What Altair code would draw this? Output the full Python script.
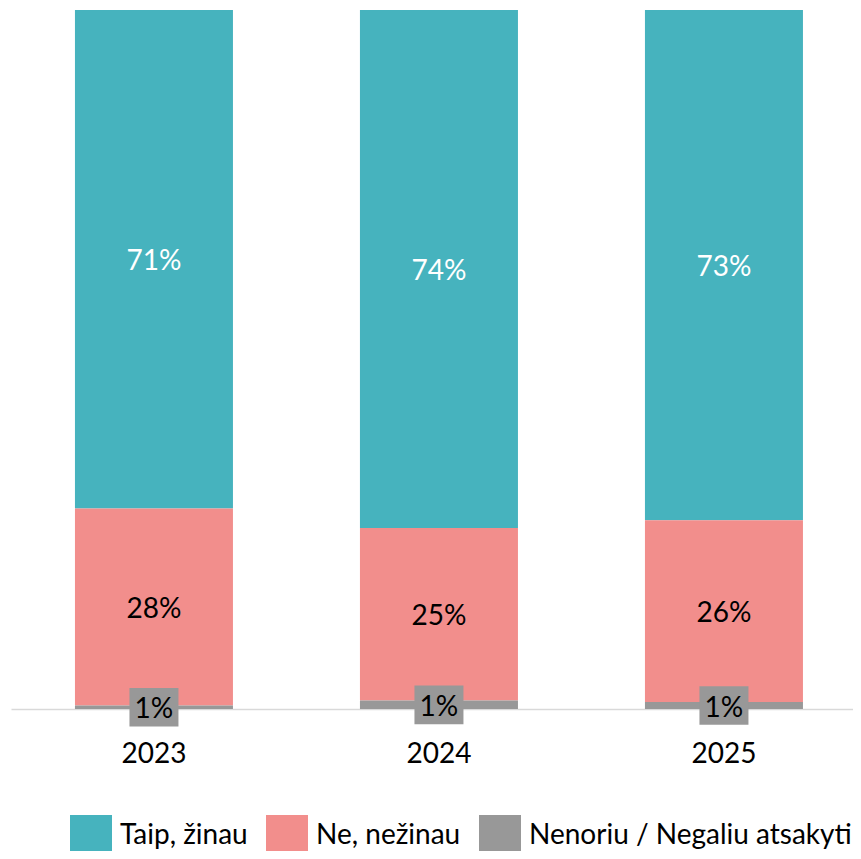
import altair as alt
import pandas as pd

years = ["2023", "2024", "2025"]
categories = ["Taip, žinau", "Ne, nežinau", "Nenoriu / Negaliu atsakyti"]
colors = ["#46B3BE", "#F28E8C", "#989898"]
stack_order = [2, 1, 0]

taip = [71.3, 74.1, 73.0]
ne = [28.2, 24.7, 26.0]
nenoriu = [0.5, 1.2, 1.0]

taip_lbl = ["71%", "74%", "73%"]
ne_lbl = ["28%", "25%", "26%"]
nenoriu_lbl = ["1%", "1%", "1%"]

rows = []
for ci, (vals, lbls) in enumerate([(taip, taip_lbl), (ne, ne_lbl), (nenoriu, nenoriu_lbl)]):
    for yi, yr in enumerate(years):
        rows.append({"year": yr, "cat": categories[ci], "ord": stack_order[ci],
                     "value": vals[yi], "label": lbls[yi]})
df = pd.DataFrame(rows)

FONT = "Lato"
FS = 28

xscale = alt.Scale(domain=years, paddingInner=0.4456, paddingOuter=0.2, align=0.561)
xaxis = alt.Axis(title=None, ticks=False, labelFontSize=FS, labelColor="#000000",
                 labelFont=FONT, labelPadding=31, domainColor="#D9D9D9",
                 domainWidth=1.5, labelAngle=0, grid=False)
x_main = alt.X("year:N", scale=xscale, sort=years, axis=xaxis)
yscale = alt.Scale(domain=[0, 100], nice=False, zero=True)

base = alt.Chart(df)

bars = base.mark_bar().encode(
    x=x_main,
    y=alt.Y("value:Q", stack="zero", scale=yscale, axis=None),
    color=alt.Color("cat:N", scale=alt.Scale(domain=categories, range=colors),
                    sort=categories,
                    legend=alt.Legend(title=None, orient="none", legendX=59, legendY=805,
                                      direction="horizontal", symbolType="square",
                                      symbolSize=1764, symbolStrokeWidth=0,
                                      labelFontSize=FS, labelFont=FONT, labelColor="#000000",
                                      labelOffset=8, columnPadding=18, labelLimit=500,
                                      symbolOpacity=1)),
    order=alt.Order("ord:Q"),
)

stacked = base.transform_stack(
    stack="value", groupby=["year"], as_=["y0", "y1"], sort=[alt.SortField("ord")]
).transform_calculate(mid="(datum.y0 + datum.y1) / 2")

ymid = alt.Y("mid:Q", scale=yscale, axis=None)

teal_txt = stacked.transform_filter(alt.datum.cat == categories[0]).mark_text(
    font=FONT, fontSize=FS, color="white", baseline="middle", dy=3).encode(
    x=x_main, y=ymid, text="label:N")

pink_txt = stacked.transform_filter(alt.datum.cat == categories[1]).mark_text(
    font=FONT, fontSize=FS, color="black", baseline="middle", dy=3).encode(
    x=x_main, y=ymid, text="label:N")

gray_box = stacked.transform_filter(alt.datum.cat == categories[2]).mark_point(
    shape="M-1,-0.79L1,-0.79L1,0.79L-1,0.79Z", size=2401, filled=True,
    color="#989898", opacity=1, strokeWidth=0).encode(
    x=x_main, y=ymid)

gray_txt = stacked.transform_filter(alt.datum.cat == categories[2]).mark_text(
    font=FONT, fontSize=FS, color="black", baseline="middle", dy=3).encode(
    x=x_main, y=ymid, text="label:N")

chart = alt.layer(bars, teal_txt, pink_txt, gray_box, gray_txt).properties(
    width=842, height=699,
    padding={"left": 3, "top": 2, "right": 0, "bottom": 142},
    autosize=alt.AutoSizeParams(type="none"),
).configure(font=FONT).configure_view(strokeWidth=0, stroke="transparent")

chart.save("out.html", embed_options={"renderer": "svg", "actions": False})
